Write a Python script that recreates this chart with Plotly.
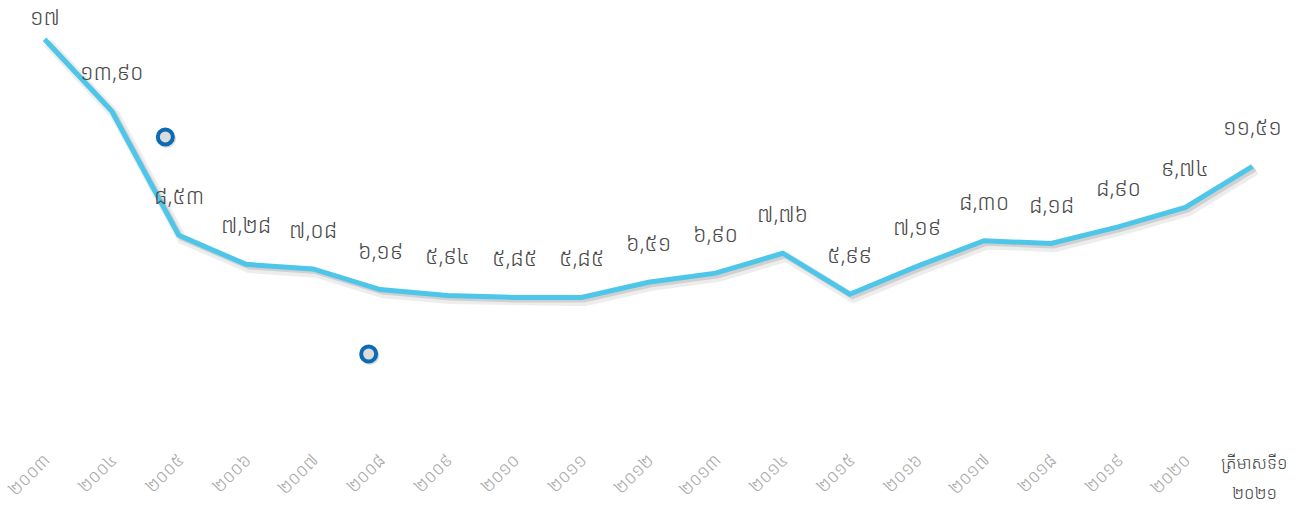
import plotly.graph_objects as go

categories = ["២០០៣", "២០០៤", "២០០៥", "២០០៦", "២០០៧", "២០០៨", "២០០៩", "២០១០", "២០១១",
              "២០១២", "២០១៣", "២០១៤", "២០១៥", "២០១៦", "២០១៧", "២០១៨", "២០១៩", "២០២០",
              "ត្រីមាសទី១<br>២០២១"]
values = [17, 13.90, 8.53, 7.28, 7.08, 6.19, 5.94, 5.85, 5.85, 6.51, 6.90, 7.76, 5.99,
          7.19, 8.30, 8.18, 8.90, 9.74, 11.51]

KH = str.maketrans("0123456789", "០១២៣៤៥៦៧៨៩")


def kh_num(v):
    s = str(int(v)) if float(v).is_integer() else f"{v:.2f}".replace(".", ",")
    return s.translate(KH)


W, H = 1304, 509
M = dict(l=11, r=18, t=16, b=76)
YMAX = 18
px_per_unit = (H - M["t"] - M["b"]) / YMAX

xs = list(range(len(categories)))
fig = go.Figure()

# soft shadow under the line
fig.add_trace(go.Scatter(x=[x + 0.05 for x in xs], y=[v - 0.16 for v in values], mode="lines",
                         line=dict(color="rgba(0,0,0,0.07)", width=10), hoverinfo="skip",
                         showlegend=False))
fig.add_trace(go.Scatter(x=[x + 0.04 for x in xs], y=[v - 0.11 for v in values], mode="lines",
                         line=dict(color="rgba(0,0,0,0.12)", width=5), hoverinfo="skip",
                         showlegend=False))
fig.add_trace(go.Scatter(x=xs, y=values, mode="lines",
                         line=dict(color="#4DC6E9", width=5), showlegend=False))

khfont = "Noto Sans Khmer, Khmer OS, DejaVu Sans, sans-serif"
for x, v in zip(xs, values):
    py = M["t"] + (YMAX - v) * px_per_unit
    shift = min(40, py - 16)
    fig.add_annotation(x=x, y=v, text=kh_num(v), showarrow=False, yshift=shift,
                       font=dict(size=22, color="#4a4a4a", family=khfont, weight=300))

# last (horizontal, two-line) category label
for i, line in enumerate(categories[-1].split("<br>")):
    fig.add_annotation(x=xs[-1], y=0, yref="y", text=line, showarrow=False,
                       yanchor="middle", yshift=-29 - 30 * i, xshift=2,
                       font=dict(size=17, color="#444444", family=khfont, weight=300))

# decorative ring markers
for (cx, cy) in [(1.80, 12.78), (4.83, 3.41)]:
    fig.add_shape(type="circle", xref="x", yref="y", xsizemode="pixel", ysizemode="pixel",
                  xanchor=cx + 0.02, yanchor=cy - 0.07, x0=-9, x1=9, y0=-9, y1=9,
                  line=dict(color="rgba(0,0,0,0.08)", width=1), fillcolor="rgba(0,0,0,0.12)")
    fig.add_shape(type="circle", xref="x", yref="y", xsizemode="pixel", ysizemode="pixel",
                  xanchor=cx, yanchor=cy, x0=-7.5, x1=7.5, y0=-7.5, y1=7.5,
                  line=dict(color="#0B6BB5", width=4), fillcolor="#dcdcdc")

ticktext = categories[:-1] + [""]
fig.update_layout(
    width=W, height=H,
    margin=M,
    paper_bgcolor="white", plot_bgcolor="white",
    xaxis=dict(range=[-0.5, 18.5], tickmode="array", tickvals=xs, ticktext=ticktext,
               tickangle=-45, showgrid=False, zeroline=False, showline=False, ticks="",
               ticklabeloverflow="allow", automargin=False, ticklabelstandoff=12,
               tickfont=dict(size=18, color="#a8a8a8", family=khfont, weight=300)),
    yaxis=dict(range=[0, YMAX], visible=False, automargin=False),
)

fig.write_html("out.html", config={"displayModeBar": False},
               post_script="document.body.style.margin='0';")
